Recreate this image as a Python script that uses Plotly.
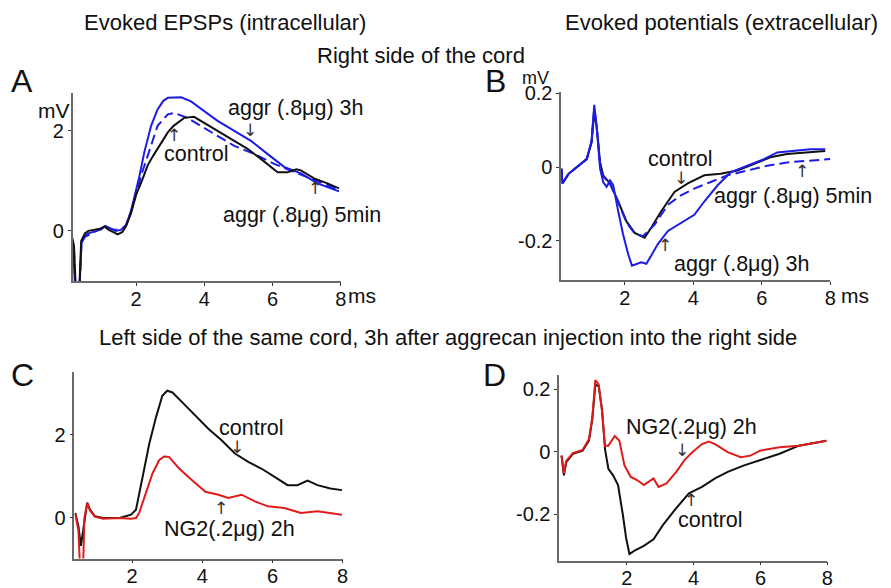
import plotly.graph_objects as go

# ---------------- data ----------------
# Panel A: evoked EPSPs (intracellular), right side
a_ctrl_x = [0.1, 0.18, 0.24, 0.33, 0.39, 0.5, 0.6, 0.8, 0.98, 1.07, 1.2, 1.35, 1.46, 1.6, 1.71, 1.85, 2.0, 2.17, 2.34, 2.5, 2.63, 2.8, 2.93, 3.1, 3.22, 3.41, 3.7, 4.0, 4.39, 4.88, 5.27, 5.66, 6.0, 6.15, 6.44, 6.7, 6.83, 7.22, 7.61, 7.95]
a_ctrl_y = [-0.05, -0.3, -1.3, -1.3, -0.2, -0.05, 0.0, 0.02, 0.05, 0.09, 0.02, -0.03, -0.07, -0.02, 0.1, 0.35, 0.72, 1.0, 1.31, 1.5, 1.64, 1.83, 1.97, 2.1, 2.16, 2.26, 2.28, 2.16, 2.0, 1.8, 1.64, 1.44, 1.25, 1.17, 1.17, 1.23, 1.21, 1.05, 0.95, 0.85]

a_3h_x = [0.1, 0.17, 0.22, 0.33, 0.4, 0.5, 0.6, 0.8, 0.98, 1.1, 1.25, 1.4, 1.55, 1.71, 1.85, 2.0, 2.1, 2.24, 2.44, 2.63, 2.8, 2.93, 3.32, 3.61, 4.0, 4.39, 4.88, 5.37, 5.85, 6.34, 6.83, 7.32, 7.95]
a_3h_y = [-0.12, -0.5, -1.3, -1.3, -0.25, -0.1, -0.05, 0.0, 0.03, 0.1, 0.05, 0.0, 0.02, 0.12, 0.4, 0.79, 1.1, 1.57, 2.1, 2.43, 2.6, 2.66, 2.67, 2.59, 2.39, 2.2, 2.0, 1.8, 1.54, 1.28, 1.15, 0.95, 0.79]

a_5m_x = [0.1, 0.18, 0.23, 0.33, 0.4, 0.5, 0.7, 0.9, 1.05, 1.2, 1.4, 1.6, 1.71, 1.85, 2.0, 2.17, 2.34, 2.63, 2.93, 3.12, 3.5, 3.9, 4.39, 4.88, 5.46, 6.05, 6.63, 7.2, 7.95]
a_5m_y = [-0.08, -0.4, -1.3, -1.3, -0.22, -0.12, -0.05, 0.02, 0.08, 0.05, 0.02, 0.05, 0.12, 0.38, 0.75, 1.15, 1.5, 2.1, 2.33, 2.36, 2.26, 2.1, 1.9, 1.7, 1.54, 1.34, 1.18, 1.02, 0.82]

# Panel B: evoked potentials (extracellular), right side
b_ctrl_x = [0.15, 0.18, 0.36, 0.65, 0.89, 1.03, 1.11, 1.18, 1.28, 1.37, 1.57, 1.81, 2.05, 2.29, 2.58, 2.77, 3.06, 3.45, 3.84, 4.32, 4.8, 5.29, 5.77, 6.25, 6.73, 7.22, 7.85]
b_ctrl_y = [-0.004, -0.044, -0.018, 0.004, 0.022, 0.067, 0.147, 0.11, 0.013, -0.022, -0.044, -0.093, -0.147, -0.178, -0.191, -0.164, -0.12, -0.067, -0.044, -0.022, -0.018, -0.009, 0.009, 0.027, 0.036, 0.04, 0.044]

b_3h_x = [0.15, 0.18, 0.36, 0.65, 0.89, 1.03, 1.11, 1.18, 1.28, 1.37, 1.47, 1.57, 1.66, 1.81, 1.95, 2.1, 2.21, 2.48, 2.63, 2.77, 2.96, 3.26, 3.64, 4.03, 4.32, 4.71, 5.1, 5.58, 6.06, 6.45, 6.93, 7.41, 7.85]
b_3h_y = [-0.004, -0.044, -0.018, 0.004, 0.022, 0.07, 0.169, 0.11, -0.004, -0.04, -0.053, -0.036, -0.048, -0.12, -0.182, -0.236, -0.267, -0.258, -0.262, -0.24, -0.209, -0.173, -0.151, -0.129, -0.093, -0.049, -0.013, 0.004, 0.022, 0.04, 0.044, 0.049, 0.049]

b_5m_x = [0.15, 0.18, 0.36, 0.65, 0.89, 1.03, 1.11, 1.18, 1.28, 1.37, 1.57, 1.81, 2.05, 2.29, 2.53, 2.87, 3.26, 3.64, 4.03, 4.51, 5.0, 5.58, 6.16, 6.74, 7.32, 8.0]
b_5m_y = [-0.004, -0.044, -0.018, 0.004, 0.022, 0.068, 0.16, 0.11, 0.01, -0.025, -0.045, -0.095, -0.15, -0.18, -0.187, -0.156, -0.102, -0.076, -0.058, -0.04, -0.022, -0.009, 0.004, 0.013, 0.018, 0.022]

# Panel C: left side, intracellular
c_ctrl_x = [0.38, 0.47, 0.54, 0.59, 0.66, 0.72, 0.8, 0.94, 1.17, 1.64, 1.97, 2.11, 2.3, 2.49, 2.68, 2.86, 3.0, 3.15, 3.43, 3.8, 4.18, 4.55, 4.93, 5.31, 5.68, 6.06, 6.43, 6.71, 7.0, 7.28, 7.65, 7.98]
c_ctrl_y = [0.12, -0.2, -0.67, -0.36, 0.12, 0.37, 0.2, 0.04, 0.0, 0.0, 0.08, 0.2, 0.99, 1.79, 2.42, 2.94, 3.06, 3.02, 2.78, 2.46, 2.14, 1.87, 1.55, 1.35, 1.19, 0.99, 0.79, 0.79, 0.9, 0.79, 0.71, 0.67]

c_ng2_x = [0.38, 0.47, 0.52, 0.6, 0.64, 0.72, 0.8, 0.94, 1.17, 1.64, 1.97, 2.11, 2.2, 2.39, 2.58, 2.77, 2.91, 3.05, 3.34, 3.71, 4.09, 4.46, 4.74, 5.12, 5.5, 5.87, 6.34, 6.81, 7.28, 7.98]
c_ng2_y = [0.1, -0.3, -1.3, -1.3, 0.0, 0.35, 0.18, 0.03, -0.02, 0.0, -0.02, 0.0, 0.12, 0.6, 1.07, 1.39, 1.48, 1.47, 1.19, 0.91, 0.63, 0.56, 0.48, 0.56, 0.4, 0.28, 0.24, 0.12, 0.16, 0.08]

# Panel D: left side, extracellular
d_ctrl_x = [0.05, 0.12, 0.19, 0.39, 0.68, 0.87, 0.97, 1.06, 1.16, 1.26, 1.35, 1.45, 1.59, 1.74, 1.88, 1.98, 2.08, 2.22, 2.51, 2.8, 3.09, 3.48, 3.86, 4.25, 4.64, 5.02, 5.51, 5.99, 6.57, 7.15, 7.54, 7.97]
d_ctrl_y = [-0.013, -0.076, -0.034, -0.007, 0.003, 0.035, 0.103, 0.214, 0.21, 0.135, 0.008, -0.055, -0.076, -0.107, -0.2, -0.276, -0.328, -0.318, -0.302, -0.281, -0.234, -0.181, -0.134, -0.113, -0.086, -0.065, -0.044, -0.028, -0.007, 0.019, 0.027, 0.035]

d_ng2_x = [0.05, 0.12, 0.19, 0.39, 0.68, 0.87, 0.97, 1.06, 1.16, 1.26, 1.35, 1.45, 1.64, 1.78, 1.93, 2.12, 2.32, 2.51, 2.65, 2.8, 2.95, 3.19, 3.48, 3.72, 3.96, 4.25, 4.45, 4.64, 5.02, 5.41, 5.7, 5.99, 6.57, 7.15, 7.97]
d_ng2_y = [-0.013, -0.07, -0.03, -0.005, 0.005, 0.04, 0.11, 0.229, 0.215, 0.13, 0.019, 0.019, 0.05, 0.035, -0.044, -0.081, -0.092, -0.107, -0.097, -0.086, -0.113, -0.102, -0.065, -0.028, -0.002, 0.024, 0.032, 0.024, -0.002, -0.018, -0.013, 0.003, 0.014, 0.019, 0.035]

x_tickvals = [2, 4, 6, 8]
x_ticktext = ["2", "4", "6", "8"]
a_yticks = [0, 2]
b_yticks = [-0.2, 0, 0.2]
b_yticktext = ["-0.2", "0", "0.2"]
c_yticks = [0, 2]
d_yticks = [-0.2, 0, 0.2]
d_yticktext = ["-0.2", "0", "0.2"]

# ---------------- layout helpers ----------------
W, H = 891, 620
FONT = "Liberation Sans, Arial, sans-serif"
BLUE = "#1c1ce6"
BLACK = "#111111"
RED = "#e01b1b"
AXC = "#6a6a6a"
TS = 21.5   # annotation text size
Y0 = 8.8    # observed vertical offset of the photographed page
YS = 0.994  # small vertical correction, keeps bottom tick labels inside the picture


def fx(p):
    return p / W


def fy(p):
    return 1 - ((p - Y0) / YS) / H


fig = go.Figure()


def add(x, y, color, ax, dash="solid"):
    fig.add_trace(go.Scatter(x=x, y=y, mode="lines", xaxis="x" + ax, yaxis="y" + ax,
                             line=dict(color=color, width=2, dash=dash),
                             showlegend=False, hoverinfo="skip"))


add(a_3h_x, a_3h_y, BLUE, "")
add(a_5m_x, a_5m_y, BLUE, "", "10px,5px")
add(a_ctrl_x, a_ctrl_y, BLACK, "")
add(b_ctrl_x, b_ctrl_y, BLACK, "2")
add(b_5m_x, b_5m_y, BLUE, "2", "10px,5px")
add(b_3h_x, b_3h_y, BLUE, "2")
add(c_ctrl_x, c_ctrl_y, BLACK, "3")
add(c_ng2_x, c_ng2_y, RED, "3")
add(d_ctrl_x, d_ctrl_y, BLACK, "4")
add(d_ng2_x, d_ng2_y, RED, "4")


def xax(domain, rng, anchor):
    return dict(domain=[fx(domain[0]), fx(domain[1])], range=rng, anchor=anchor,
                showline=True, linecolor=AXC, linewidth=1.5, showgrid=False, zeroline=False,
                ticks="outside", ticklen=3, tickcolor="#333", tickwidth=1.2,
                ticklabelstandoff=-4,
                tickvals=x_tickvals, ticktext=x_ticktext,
                tickfont=dict(family=FONT, size=20, color="#111"))


def yax(domain, rng, anchor, tv, tt=None):
    d = dict(domain=[fy(domain[1]), fy(domain[0])], range=rng, anchor=anchor,
             showline=True, linecolor=AXC, linewidth=1.5, showgrid=False, zeroline=False,
             ticks="outside", ticklen=3, tickcolor="#333", tickwidth=1.2,
             tickvals=tv, tickfont=dict(family=FONT, size=20, color="#111"))
    if tt is not None:
        d["ticktext"] = tt
    return d


layout = dict(
    width=W, height=H, margin=dict(l=0, r=0, t=0, b=0),
    paper_bgcolor="white", plot_bgcolor="white", showlegend=False,
    xaxis=xax((73, 343), [0.136, 8], "y"),
    yaxis=yax((93, 283), [-1.01, 2.75], "x", a_yticks),
    xaxis2=xax((565, 836), [0.145, 8], "y2"),
    yaxis2=yax((92, 282), [-0.307, 0.203], "x2", b_yticks, b_yticktext),
    xaxis3=xax((75, 345), [0.358, 8], "y3"),
    yaxis3=yax((375, 563), [-0.976, 3.5], "x3", c_yticks),
    xaxis4=xax((563, 833), [-0.02, 8], "y4"),
    yaxis4=yax((378, 565), [-0.349, 0.244], "x4", d_yticks, d_yticktext),
)
fig.update_layout(**layout)

anns = []


def txt(t, x, y, size=TS, xanchor="left"):
    anns.append(dict(text=t, x=fx(x), y=fy(y), xref="paper", yref="paper",
                     xanchor=xanchor, yanchor="middle", showarrow=False,
                     font=dict(family=FONT, size=size, color="#111")))


def arrow(x, y, up=True):
    anns.append(dict(text="↑" if up else "↓", x=fx(x), y=fy(y), xref="paper", yref="paper",
                     xanchor="center", yanchor="middle", showarrow=False,
                     font=dict(family="DejaVu Sans", size=17, color="#333")))


# titles
txt("Evoked EPSPs (intracellular)", 83, 21, 22)
txt("Evoked potentials (extracellular)", 567, 21, 22)
txt("Right side of the cord", 424, 55, 22, "center")
txt("Left side of the same cord, 3h after aggrecan injection into the right side", 98, 340, 22)
# panel letters
txt("A", 9, 81, 32)
txt("B", 486, 81, 32)
txt("C", 9, 378, 32)
txt("D", 484, 378, 32)
# units
txt("mV", 72, 110, 21, "right")
txt("ms", 348, 297, 21)
txt("mV", 555, 77, 18, "right")
txt("ms", 845, 297, 21)
# panel A labels
txt("aggr (.8μg) 3h", 228, 108)
arrow(252, 130, up=False)
arrow(175, 135, up=True)
txt("control", 163, 154)
arrow(317, 189, up=True)
txt("aggr (.8μg) 5min", 223, 216)
# panel B labels
txt("control", 650, 159)
arrow(686, 179, up=False)
txt("aggr (.8μg) 5min", 717, 197)
arrow(807, 171, up=True)
arrow(670, 246, up=True)
txt("aggr (.8μg) 3h", 677, 265)
# panel C labels
txt("control", 218, 431)
arrow(239, 450, up=False)
arrow(223, 512, up=True)
txt("NG2(.2μg) 2h", 163, 533)
# panel D labels
txt("NG2(.2μg) 2h", 628, 430)
arrow(687, 453, up=False)
arrow(696, 504, up=True)
txt("control", 681, 524)

fig.update_layout(annotations=anns)

css_fix = (
    "var s='margin:0;padding:0;overflow:hidden;';"
    "document.documentElement.style.cssText=s;"
    "document.body.style.cssText=s;"
)
fig.write_html("out.html", config={"displayModeBar": False}, post_script=css_fix)
